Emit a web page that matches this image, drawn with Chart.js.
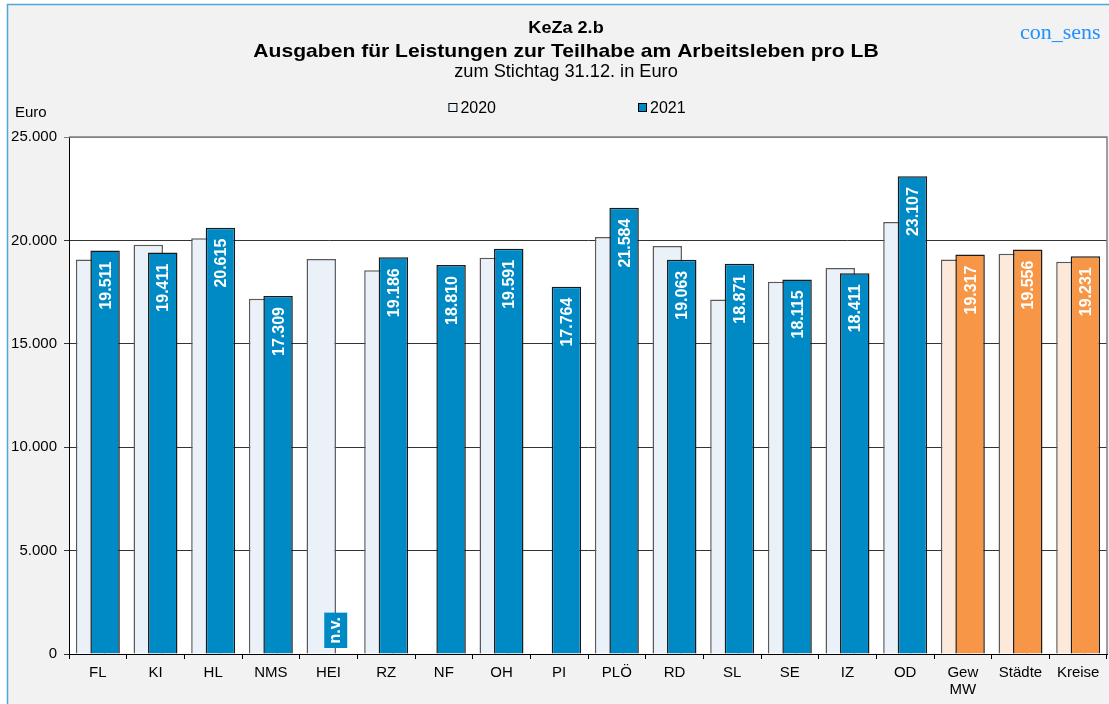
<!DOCTYPE html>
<html>
<head>
<meta charset="utf-8">
<script src="https://cdn.jsdelivr.net/npm/chart.js@4"></script>
<style>
  body { margin: 0; background: #fff; }
  canvas { display: block; }
</style>
</head>
<body>
<canvas id="myChart" width="1109" height="704"></canvas>
<script>
const categories = ['FL', 'KI', 'HL', 'NMS', 'HEI', 'RZ', 'NF', 'OH', 'PI', 'PLÖ', 'RD', 'SL', 'SE', 'IZ', 'OD', ['Gew', 'MW'], 'Städte', 'Kreise'];
const aggregates = ['Gew MW', 'Städte', 'Kreise'];
const seriesNames = ['2020', '2021'];
const values2020 = [19080, 19790, 20110, 17180, 19100, 18560, null, 19160, null, 20160, 19730, 17140, 18000, 18660, 20890, 19080, 19360, 18970];
const values2021 = [19511, 19411, 20615, 17309, null, 19186, 18810, 19591, 17764, 21584, 19063, 18871, 18115, 18411, 23107, 19317, 19556, 19231];
const yTicks = [0, 5000, 10000, 15000, 20000, 25000];
const missingText = 'n.v.';

const FONT = '"Liberation Sans", Arial, sans-serif';
const blue = '#008AC5';
const blueLight = '#EAF1F8';
const orange = '#F79646';
const orangeLight = '#FDE9D9';

Chart.defaults.font.family = FONT;
Chart.defaults.color = '#000';

// 19511 -> "19.511"
const fmt = v => String(v).replace(/\B(?=(\d{3})+(?!\d))/g, '.');
const isAgg = i => aggregates.includes([].concat(categories[i]).join(' '));

function stretchText(ctx, text, x, y, font, sx, align) {
    ctx.save();
    ctx.font = font;
    ctx.textAlign = align;
    ctx.translate(x, y);
    ctx.scale(sx, 1);
    ctx.fillText(text, 0, 0);
    ctx.restore();
}

const decor = {
    id: 'decor',
    beforeDraw(chart) {
        const { ctx, chartArea: a, width, height } = chart;
        ctx.save();
        ctx.fillStyle = '#fff';
        ctx.fillRect(0, 0, width, height);
        ctx.fillStyle = '#f2f2f2';
        ctx.fillRect(7, 4, width - 7, height - 4);
        ctx.strokeStyle = '#4da6dc';
        ctx.lineWidth = 1.5;
        ctx.beginPath();
        ctx.moveTo(7.5, height);
        ctx.lineTo(7.5, 4.5);
        ctx.lineTo(width, 4.5);
        ctx.stroke();
        ctx.fillStyle = '#fff';
        ctx.fillRect(a.left, a.top, a.right - a.left, a.bottom - a.top);
        ctx.restore();
    },
    // draw 2020 first so the 2021 bars overlap it
    beforeDatasetsDraw(chart) {
        chart.getDatasetMeta(0).controller.draw();
        chart.getDatasetMeta(1).controller.draw();
        return false;
    },
    afterDraw(chart) {
        const { ctx, chartArea: a } = chart;
        const y0 = chart.scales.y.getPixelForValue(0);
        ctx.save();

        // value labels inside the 2021 bars
        const meta = chart.getDatasetMeta(1);
        ctx.font = 'bold 16px ' + FONT;
        meta.data.forEach((el, i) => {
            const v = values2021[i];
            ctx.save();
            if (v == null) {
                const w = ctx.measureText(missingText).width;
                const h = w + 9;
                const bottom = y0 - 6;
                ctx.fillStyle = blue;
                ctx.fillRect(el.x - 11.5, bottom - h, 23, h);
                ctx.fillStyle = '#fff';
                ctx.translate(el.x, bottom - 4.5);
                ctx.rotate(-Math.PI / 2);
                ctx.textAlign = 'left';
                ctx.fillText(missingText, 0, 4.2);
            } else {
                ctx.fillStyle = '#fff';
                ctx.translate(el.x, el.y + 11);
                ctx.rotate(-Math.PI / 2);
                ctx.textAlign = 'right';
                ctx.fillText(fmt(v), 0, 5.7);
            }
            ctx.restore();
        });

        // plot frame top / right
        ctx.strokeStyle = '#808080';
        ctx.lineWidth = 1.5;
        ctx.beginPath();
        ctx.moveTo(a.left, a.top);
        ctx.lineTo(a.right, a.top);
        ctx.lineTo(a.right, a.bottom);
        ctx.stroke();

        // header
        const cx = 566;
        ctx.fillStyle = '#000';
        stretchText(ctx, 'KeZa 2.b', cx, 33, 'bold 16px ' + FONT, 1.13, 'center');
        stretchText(ctx, 'Ausgaben für Leistungen zur Teilhabe am Arbeitsleben pro LB', cx, 57, 'bold 19px ' + FONT, 1.11, 'center');
        stretchText(ctx, 'zum Stichtag 31.12. in Euro', cx, 77, '17.5px ' + FONT, 1.04, 'center');

        ctx.font = '22px "Liberation Serif", "DejaVu Serif", serif';
        ctx.fillStyle = '#1e90ff';
        ctx.textAlign = 'left';
        ctx.fillText('con_sens', 1020, 39);

        ctx.font = '15px ' + FONT;
        ctx.fillStyle = '#000';
        ctx.fillText('Euro', 15, 116.5);

        // legend
        ctx.font = '16px ' + FONT;
        const box = 9, gap = 3, itemGap = 142;
        const ds = chart.data.datasets;
        const widths = ds.map(d => box + gap + ctx.measureText(d.label).width);
        let x = 567 - (widths.reduce((s, w) => s + w, 0) + itemGap * (ds.length - 1)) / 2;
        ds.forEach((d, i) => {
            ctx.fillStyle = d.legendColor;
            ctx.fillRect(x, 103, box, box);
            ctx.strokeStyle = '#000';
            ctx.lineWidth = 1;
            ctx.strokeRect(x + 0.5, 103.5, box - 1, box - 1);
            ctx.fillStyle = '#000';
            ctx.fillText(d.label, x + box + gap, 112.5);
            x += widths[i] + itemGap;
        });
        ctx.restore();
    }
};

const data = {
    labels: categories,
    datasets: [{
        label: seriesNames[0],
        data: values2020,
        legendColor: blueLight,
        backgroundColor: c => isAgg(c.dataIndex) ? orangeLight : blueLight,
        borderColor: '#595959',
        borderWidth: 1.5,
    }, {
        label: seriesNames[1],
        data: values2021,
        legendColor: blue,
        backgroundColor: c => isAgg(c.dataIndex) ? orange : blue,
        borderColor: '#1a1a1a',
        borderWidth: 1.5,
    }]
};

const config = {
    type: 'bar',
    data: data,
    options: {
        responsive: false,
        animation: false,
        layout: {
            padding: { top: 137, right: 2, left: 0, bottom: 0 },
            autoPadding: false,
        },
        datasets: {
            bar: { categoryPercentage: 0.503, barPercentage: 2.03 }
        },
        plugins: {
            legend: { display: false },
            title: { display: false },
            tooltip: { enabled: false },
        },
        scales: {
            x: {
                grid: { drawOnChartArea: false, color: '#000', tickLength: 5 },
                border: { color: '#000' },
                ticks: { font: { size: 15, lineHeight: 1.15 }, padding: 5, maxRotation: 0, autoSkip: false },
                afterFit: s => { s.height = 50; },
            },
            y: {
                min: 0,
                max: 25000,
                afterBuildTicks: s => { s.ticks = yTicks.map(v => ({ value: v })); },
                ticks: { font: { size: 15 }, padding: 7, callback: v => fmt(v) },
                grid: { color: c => c.tick && c.tick.value === 25000 ? '#808080' : '#333', tickLength: 5 },
                border: { color: '#000' },
                afterFit: s => { s.width = 69; },
            }
        }
    },
    plugins: [decor]
};

const myChart = new Chart(
    document.getElementById('myChart'),
    config
);
</script>
</body>
</html>
